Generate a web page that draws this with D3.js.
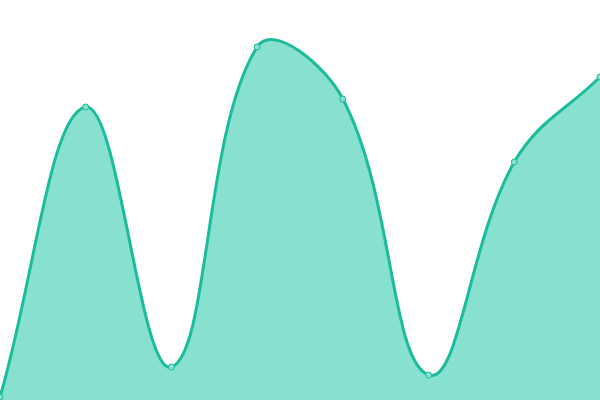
<!DOCTYPE html>
<html><head><meta charset="utf-8">
<script src="https://cdn.jsdelivr.net/npm/d3@7"></script>
<style>html,body{margin:0;padding:0;background:#fff;overflow:hidden}</style>
</head><body>
<svg id="c" width="600" height="400"></svg>
<script>
const categories = [0, 1, 2, 3, 4, 5, 6, 7];
const values = [3, 293, 33, 353, 301, 25, 238, 323];
const yDomain = [0, 400];

const W = 600, H = 400;
const svg = d3.select("#c");
const x = d3.scaleLinear().domain([0, categories.length - 1]).range([0, W]);
const y = d3.scaleLinear().domain(yDomain).range([H, 0]);
const data = categories.map((c, i) => ({c, v: values[i]}));

// Distance-weighted spline (tension 0.4) as a custom D3 curve
function SplineCurve(context, t) { this._context = context; this._t = t; }
SplineCurve.prototype = {
  areaStart() { this._line = 0; },
  areaEnd() { this._line = NaN; },
  lineStart() { this._pts = []; },
  point(px, py) { this._pts.push([+px, +py]); },
  lineEnd() {
    const p = this._pts, n = p.length, c = this._context, t = this._t;
    if (n) {
      if (this._line) c.lineTo(p[0][0], p[0][1]); else c.moveTo(p[0][0], p[0][1]);
      const prevCp = [], nextCp = [];
      for (let i = 0; i < n; i++) {
        const cur = p[i], prev = p[i > 0 ? i - 1 : i], next = p[i < n - 1 ? i + 1 : i];
        const d01 = Math.hypot(cur[0] - prev[0], cur[1] - prev[1]);
        const d12 = Math.hypot(next[0] - cur[0], next[1] - cur[1]);
        let s01 = d01 / (d01 + d12), s12 = d12 / (d01 + d12);
        if (isNaN(s01)) s01 = 0; if (isNaN(s12)) s12 = 0;
        const fa = t * s01, fb = t * s12;
        const clampX = v => Math.max(0, Math.min(W, v)), clampY = v => Math.max(0, Math.min(H, v));
        prevCp[i] = [clampX(cur[0] - fa * (next[0] - prev[0])), clampY(cur[1] - fa * (next[1] - prev[1]))];
        nextCp[i] = [clampX(cur[0] + fb * (next[0] - prev[0])), clampY(cur[1] + fb * (next[1] - prev[1]))];
      }
      for (let i = 1; i < n; i++) {
        c.bezierCurveTo(nextCp[i-1][0], nextCp[i-1][1], prevCp[i][0], prevCp[i][1], p[i][0], p[i][1]);
      }
    }
    if (this._line || (this._line !== 0 && n === 1)) c.closePath();
    this._line = 1 - this._line;
  }
};
const curve = ctx => new SplineCurve(ctx, 0.4);

svg.append("path").datum(data)
  .attr("d", d3.area().x(d => x(d.c)).y0(H).y1(d => y(d.v)).curve(curve))
  .attr("fill", "#88e0cf");
svg.append("path").datum(data)
  .attr("d", d3.line().x(d => x(d.c)).y(d => y(d.v)).curve(curve))
  .attr("fill", "none").attr("stroke", "#1abc9c").attr("stroke-width", 3);
svg.selectAll("circle").data(data).join("circle")
  .attr("cx", d => x(d.c)).attr("cy", d => y(d.v)).attr("r", 3)
  .attr("fill", "#88e0cf").attr("stroke", "#1abc9c").attr("stroke-width", 1);
</script>
</body></html>
